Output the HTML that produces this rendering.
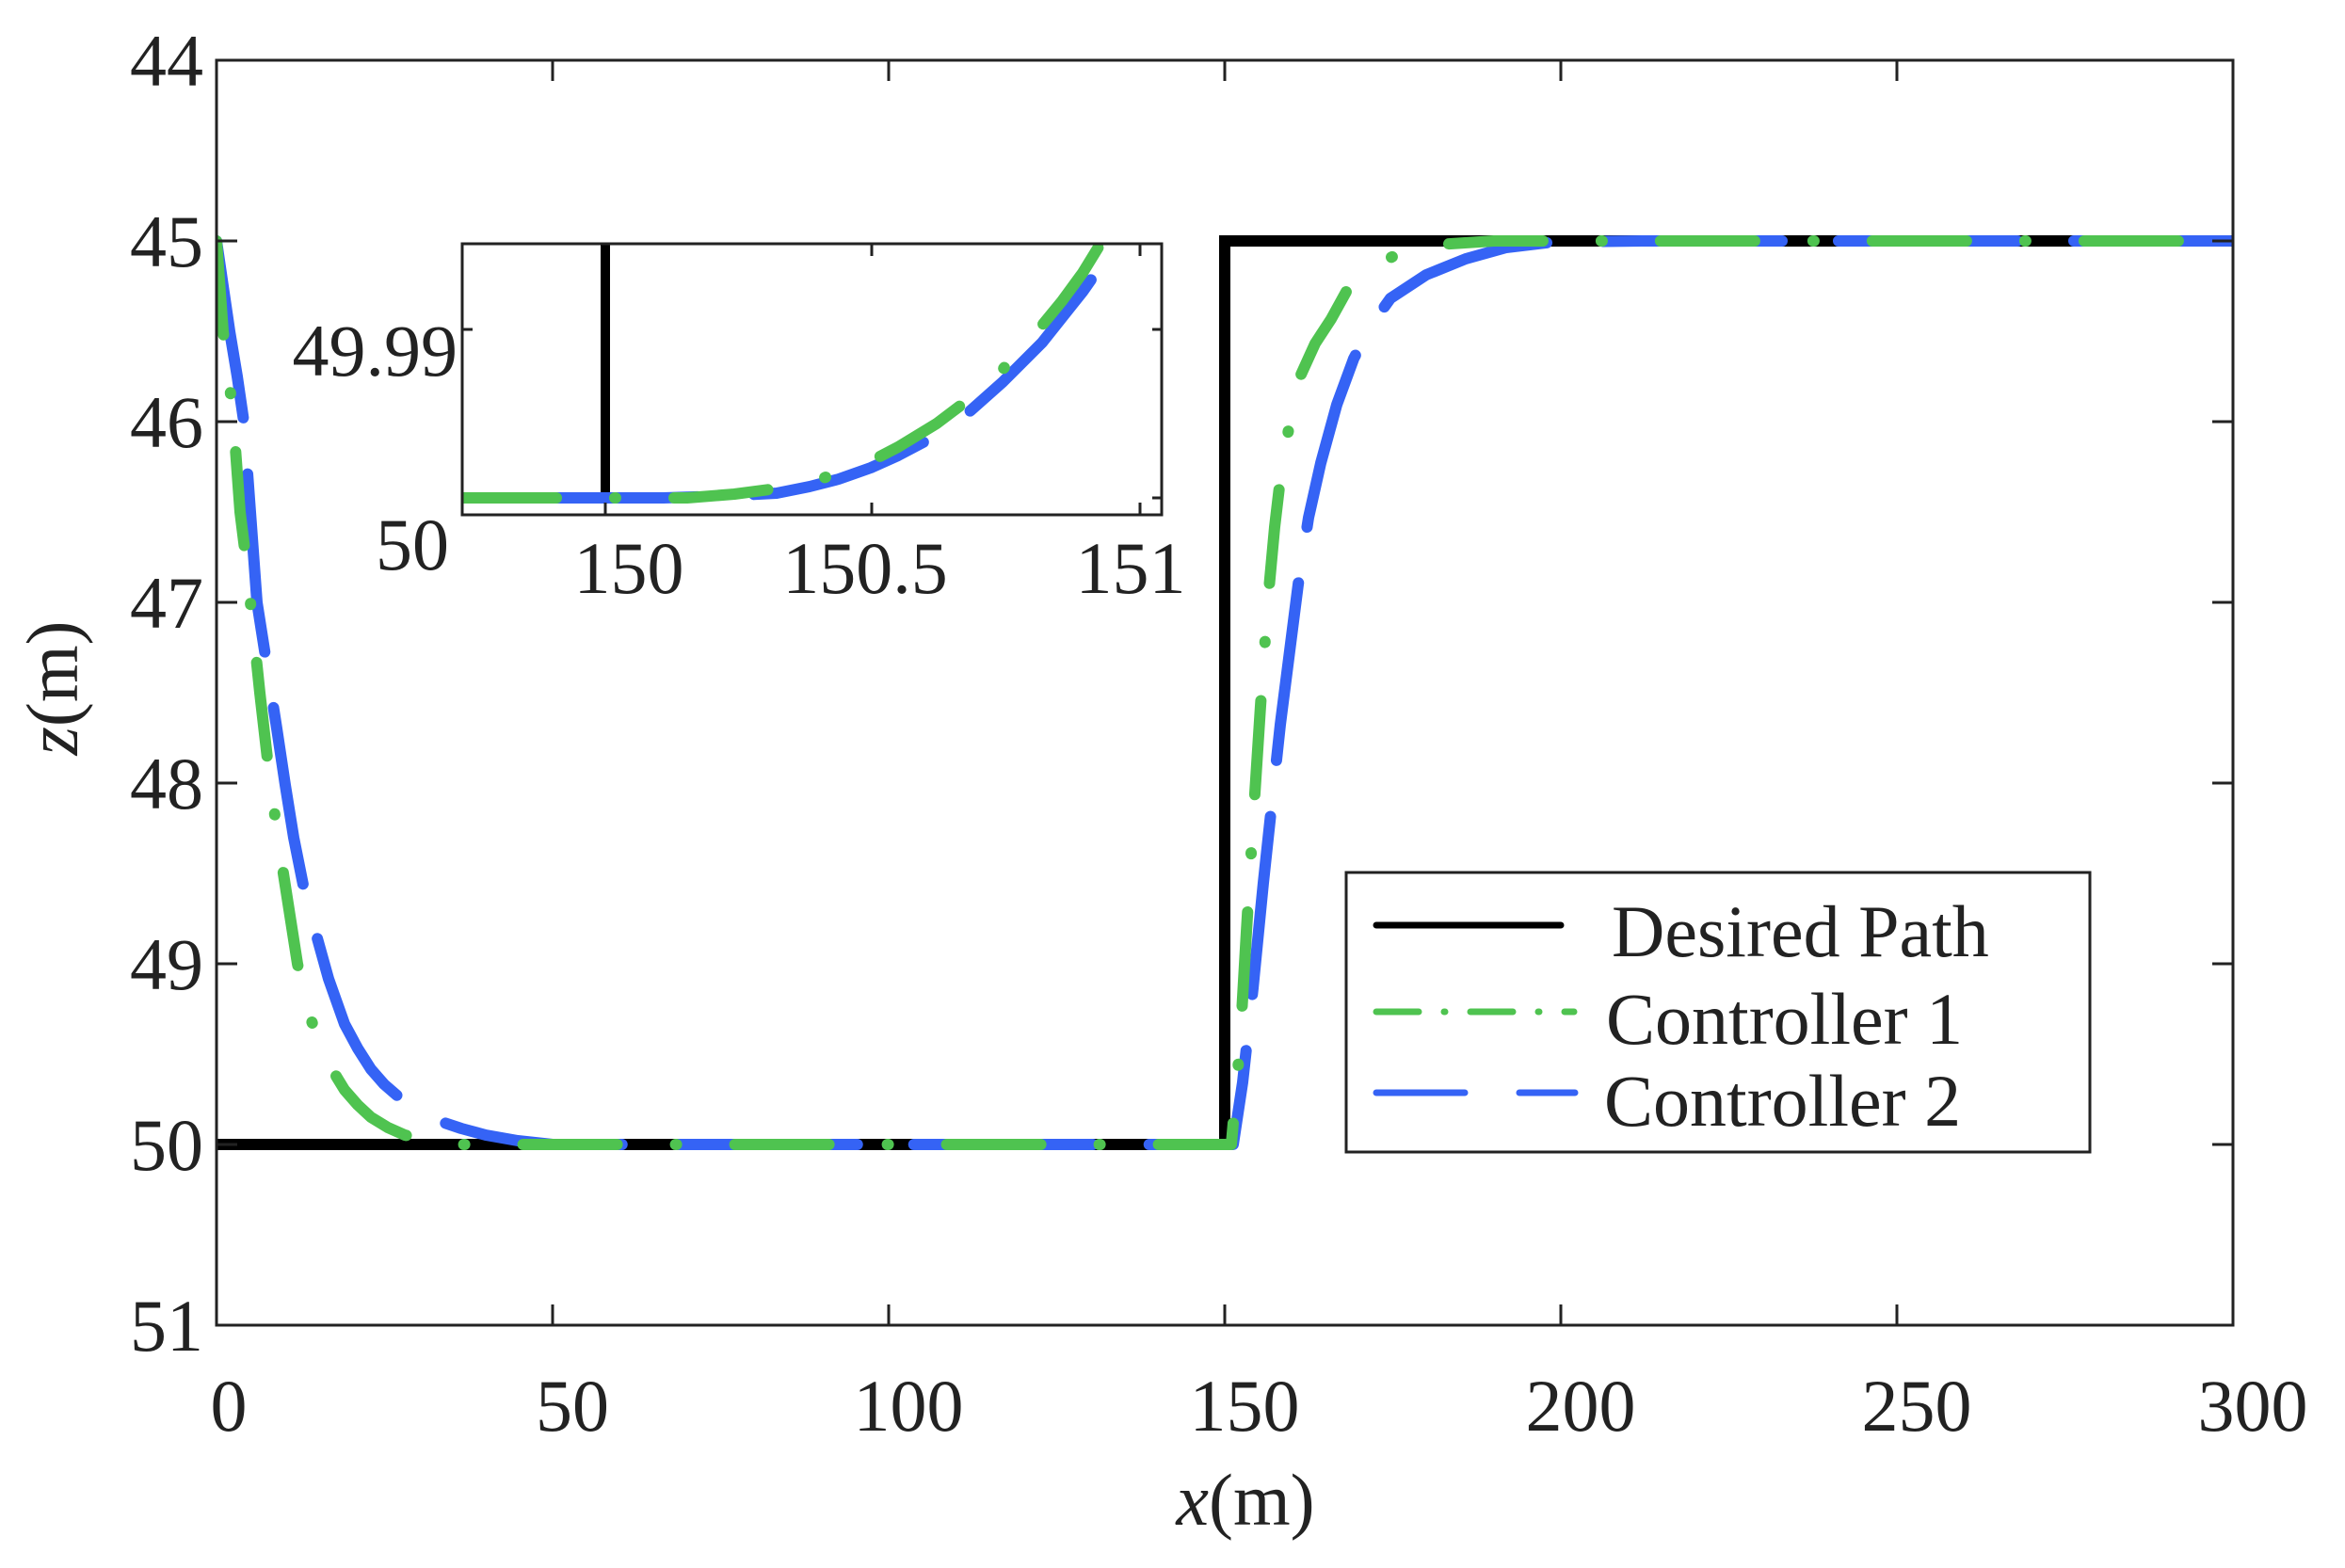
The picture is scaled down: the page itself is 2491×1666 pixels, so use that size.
<!DOCTYPE html>
<html><head><meta charset="utf-8"><style>
html,body{margin:0;padding:0;background:#fff}
svg{display:block}
text{font-family:"Liberation Serif",serif;fill:#222}
</style></head><body>
<svg width="2491" height="1666" viewBox="0 0 2491 1666" xmlns="http://www.w3.org/2000/svg">
<defs>
<clipPath id="main"><rect x="230" y="64" width="2142" height="1344"/></clipPath>
<clipPath id="ins"><rect x="491" y="259" width="743" height="288"/></clipPath>
</defs>
<rect width="2491" height="1666" fill="#fff"/>
<g clip-path="url(#main)">
<polyline points="230,1216 1301,1216 1301,256 2372,256" fill="none" stroke="#000" stroke-width="12" stroke-linejoin="miter"/>
<polyline fill="none" stroke="#3563f5" stroke-width="12" stroke-linecap="round" stroke-linejoin="round" stroke-dasharray="190 60"
points="230,256 237,304 244,352 252,400 259,448 266,544 273,640 284,710 294,774 303,834 312,890 322,940 334,986 349,1040 366,1088 380,1114 394,1136 408,1152 423,1165 443,1179 466,1191 490,1199 516,1206 550,1212 587,1216 1301,1216 1310,1216 1320,1150 1331,1050 1342,938 1360,770 1379,621 1390,550 1403,492 1420,430 1438,381 1457,345 1477,317 1515,292 1557,275 1600,263 1651,257 1744,256 2369,256"/>
<polyline fill="none" stroke="#4fc350" stroke-width="12" stroke-linecap="round" stroke-linejoin="round" stroke-dasharray="100 62 1 62"
points="230,256 237,352 243,400 248,448 255,544 261,592 266,640 276,736 287,832 301,928 316,1024 323,1056 330,1082 337,1102 344,1120 355,1140 366,1158 380,1174 394,1187 412,1198 430,1206 455,1212 480,1216 1301,1216 1308,1216 1312,1170 1317,1112 1324,990 1331,874 1339,750 1347,636 1354,560 1362,492 1372,440 1382,398 1397,365 1414,339 1430,310 1449,287 1485,270 1525,260 1587,256 2369,256"/>
</g>
<rect x="230" y="64" width="2142" height="1344" fill="none" stroke="#222" stroke-width="3"/>
<g stroke="#222" stroke-width="3">
<line x1="230" y1="1408" x2="230" y2="1386"/><line x1="587" y1="1408" x2="587" y2="1386"/><line x1="944" y1="1408" x2="944" y2="1386"/><line x1="1301" y1="1408" x2="1301" y2="1386"/><line x1="1658" y1="1408" x2="1658" y2="1386"/><line x1="2015" y1="1408" x2="2015" y2="1386"/>
<line x1="230" y1="64" x2="230" y2="86"/><line x1="587" y1="64" x2="587" y2="86"/><line x1="944" y1="64" x2="944" y2="86"/><line x1="1301" y1="64" x2="1301" y2="86"/><line x1="1658" y1="64" x2="1658" y2="86"/><line x1="2015" y1="64" x2="2015" y2="86"/>
<line x1="230" y1="256" x2="252" y2="256"/><line x1="230" y1="448" x2="252" y2="448"/><line x1="230" y1="640" x2="252" y2="640"/><line x1="230" y1="832" x2="252" y2="832"/><line x1="230" y1="1024" x2="252" y2="1024"/><line x1="230" y1="1216" x2="252" y2="1216"/>
<line x1="2372" y1="256" x2="2350" y2="256"/><line x1="2372" y1="448" x2="2350" y2="448"/><line x1="2372" y1="640" x2="2350" y2="640"/><line x1="2372" y1="832" x2="2350" y2="832"/><line x1="2372" y1="1024" x2="2350" y2="1024"/><line x1="2372" y1="1216" x2="2350" y2="1216"/>
</g>
<g font-size="78" text-anchor="end">
<text x="216" y="91">44</text><text x="216" y="283">45</text><text x="216" y="475">46</text><text x="216" y="667">47</text><text x="216" y="859">48</text><text x="216" y="1051">49</text><text x="216" y="1243">50</text><text x="216" y="1435">51</text>
</g>
<g font-size="78" text-anchor="middle">
<text x="243" y="1520">0</text><text x="608" y="1520">50</text><text x="965" y="1520">100</text><text x="1322" y="1520">150</text><text x="1679" y="1520">200</text><text x="2036" y="1520">250</text><text x="2393" y="1520">300</text>
<text x="1323" y="1620" font-size="78"><tspan font-style="italic">x</tspan>(m)</text>
<text transform="translate(82,731) rotate(-90)" font-size="78"><tspan font-style="italic">z</tspan>(m)</text>
</g>
<rect x="491" y="259" width="743" height="288" fill="#fff"/>
<g clip-path="url(#ins)">
<line x1="643" y1="256" x2="643" y2="529" stroke="#000" stroke-width="10" stroke-linecap="round"/>
<polyline fill="none" stroke="#3563f5" stroke-width="12" stroke-linecap="round" stroke-linejoin="round" stroke-dasharray="190 60" stroke-dashoffset="-60"
points="491,529 705,529 770,527 825,524 860,517 891,509 925,497 954,484 990,465 1020,446 1065,406 1107,364 1150,310 1186,259"/>
<polyline fill="none" stroke="#4fc350" stroke-width="12" stroke-linecap="round" stroke-linejoin="round" stroke-dasharray="100 62 1 62"
points="491,529 600,529 730,529 780,525 825,519 860,512 891,503 925,490 954,475 995,450 1032,422 1060,398 1082,374 1105,348 1128,320 1150,290 1169,259"/>
</g>
<rect x="491" y="259" width="743" height="288" fill="none" stroke="#222" stroke-width="3"/>
<g stroke="#222" stroke-width="3">
<line x1="926" y1="259" x2="926" y2="272"/><line x1="1211" y1="259" x2="1211" y2="272"/>
<line x1="643" y1="547" x2="643" y2="534"/><line x1="926" y1="547" x2="926" y2="534"/><line x1="1211" y1="547" x2="1211" y2="534"/>
<line x1="491" y1="350" x2="502" y2="350"/><line x1="1234" y1="350" x2="1224" y2="350"/><line x1="1234" y1="529" x2="1224" y2="529"/>
</g>
<g font-size="78">
<text x="486" y="399" text-anchor="end">49.99</text>
<text x="477" y="605" text-anchor="end">50</text>
<text x="668" y="630" text-anchor="middle">150</text>
<text x="919" y="630" text-anchor="middle">150.5</text>
<text x="1201" y="630" text-anchor="middle">151</text>
</g>
<rect x="1430" y="927" width="790" height="297" fill="#fff" stroke="#222" stroke-width="3"/>
<line x1="1462" y1="983" x2="1658" y2="983" stroke="#000" stroke-width="7" stroke-linecap="round"/>
<line x1="1462" y1="1075" x2="1672" y2="1075" stroke="#4fc350" stroke-width="7" stroke-linecap="round" stroke-dasharray="45 27 1 27"/>
<line x1="1462" y1="1161" x2="1673" y2="1161" stroke="#3563f5" stroke-width="7" stroke-linecap="round" stroke-dasharray="94 58"/>
<g font-size="78" style="fill:#111">
<text x="1712" y="1016">Desired Path</text>
<text x="1706" y="1109">Controller 1</text>
<text x="1704" y="1196">Controller 2</text>
</g>
</svg>
</body></html>
